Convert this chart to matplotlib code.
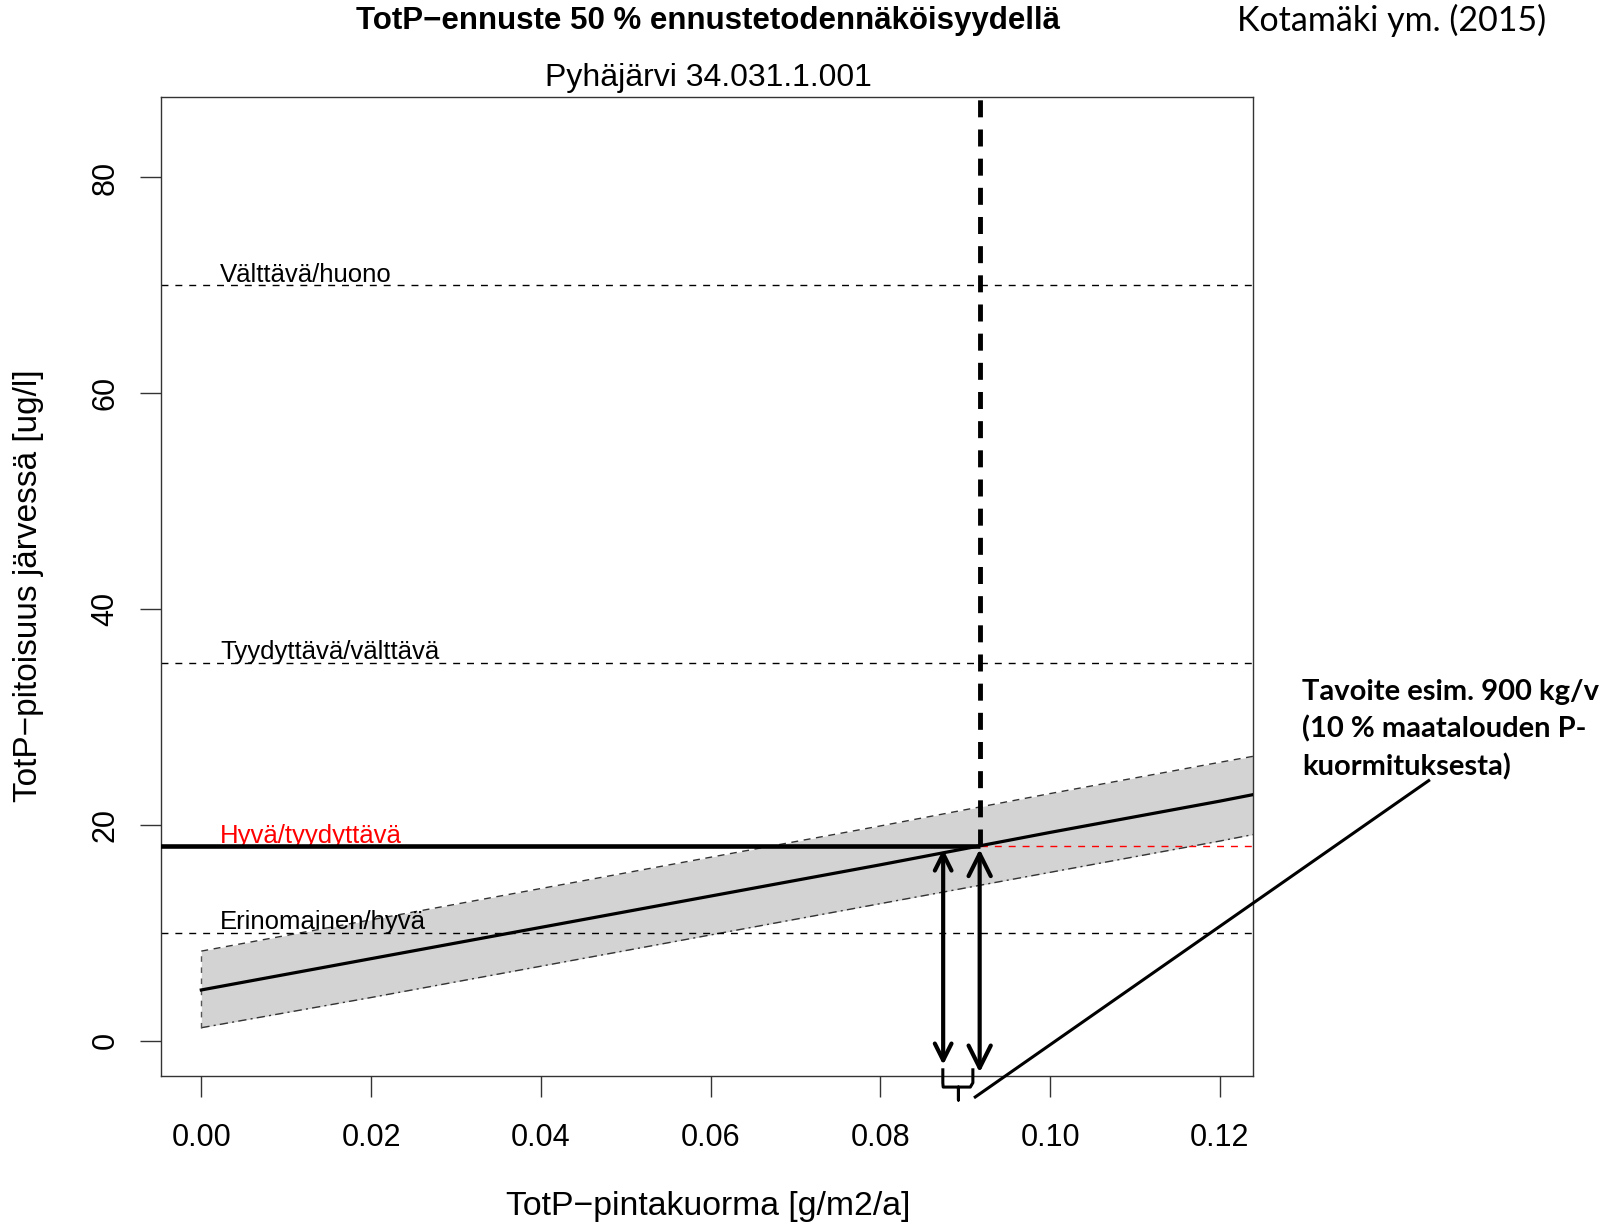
import matplotlib.pyplot as plt
import numpy as np

# kuormitus (g/m2/a) ja ennuste (ug/l)
load = [0.0, 0.02, 0.04, 0.06, 0.08, 0.10, 0.12, 0.1239]
median = [4.7, 7.6, 10.5, 13.4, 16.3, 19.3, 22.2, 22.8]
upper = [8.3, 11.2, 14.1, 17.0, 19.9, 22.9, 25.8, 26.35]
lower = [1.2, 4.0, 6.9, 9.8, 12.7, 15.6, 18.5, 19.1]

# luokkarajat
limits = [70, 35, 18, 10]
limit_names = ['Välttävä/huono', 'Tyydyttävä/välttävä', 'Hyvä/tyydyttävä', 'Erinomainen/hyvä']
limit_colors = ['black', 'black', 'red', 'black']

target_load = 0.0917
alt_load = 0.0874
target_conc = 18

x_ticks = [0.00, 0.02, 0.04, 0.06, 0.08, 0.10, 0.12]
y_ticks = [0, 20, 40, 60, 80]

plt.rcParams['font.family'] = ['Liberation Sans', 'DejaVu Sans']

fig = plt.figure(figsize=(16.18, 12.27), dpi=100)
ax = fig.add_axes([0.0995, 0.1231, 0.6749, 0.7978])
ax.set_xlim(-0.00475, 0.1239)
ax.set_ylim(-3.27, 87.45)

# ennustevyö
ax.fill_between(load, lower, upper, color='#d3d3d3', lw=0, zorder=1)
ax.plot(load, upper, color='#333333', lw=1, dashes=(5, 4), zorder=2)
ax.plot(load, lower, color='#333333', lw=1, dashes=(6, 3, 1.5, 3), zorder=2)
ax.plot([load[0], load[0]], [lower[0], upper[0]], color='#555555', lw=1, dashes=(4, 4), zorder=2)
ax.plot(load, median, color='black', lw=2.3, zorder=3)

# luokkarajat
for val, name, col in zip(limits, limit_names, limit_colors):
    ax.axhline(val, color=col, lw=1, dashes=(5, 5), zorder=2)
    ax.text(0.0022, val + 0.35, name, color=col, fontsize=18.5, ha='left', va='baseline', zorder=4)

# tavoiteviivat
ax.plot([-0.01, target_load], [target_conc, target_conc], color='black', lw=3.3, zorder=5,
        solid_capstyle='butt')
ax.plot([target_load, target_load], [target_conc, 90], color='black', lw=3.5, dashes=(3.5, 2.5), zorder=5)

ax.annotate('', xy=(alt_load, -2.5), xytext=(alt_load, target_conc),
            arrowprops=dict(arrowstyle='<->', lw=3, color='black', mutation_scale=30), zorder=6)
ax.annotate('', xy=(target_load, -3.2), xytext=(target_load, target_conc),
            arrowprops=dict(arrowstyle='<->', lw=3, color='black', mutation_scale=40), zorder=6)

# aaltosulku ja viiva tekstiin
bx = [0.08736, 0.08736, 0.0874, 0.0892, 0.0892, 0.0892, 0.0906, 0.0909, 0.0909]
by = [-2.7, -3.9, -4.3, -4.3, -5.5, -4.3, -4.3, -3.9, -2.7]
ax.plot(bx, by, color='black', lw=2.2, clip_on=False, zorder=6)
ax.plot([0.09118, 0.1446], [-5.22, 24.1], color='black', lw=2.2, clip_on=False, zorder=6)

ax.set_xticks(x_ticks)
ax.set_xticklabels(['%.2f' % v for v in x_ticks])
ax.set_yticks(y_ticks)
ax.set_yticklabels([str(v) for v in y_ticks], rotation=90, va='center')
ax.tick_params(axis='both', length=15, width=1, color='#333333', labelsize=22)
ax.tick_params(axis='x', pad=19)
ax.tick_params(axis='y', pad=14)
for s in ax.spines.values():
    s.set_color('#333333')
    s.set_linewidth(1)

fig.text(0.4376, 0.983, 'TotP\u2212ennuste 50 % ennustetodennäköisyydellä', fontsize=22.5,
         fontweight='bold', ha='center', va='center')
fig.text(0.4376, 0.9364, 'Pyhäjärvi 34.031.1.001', fontsize=23, ha='center', va='center')
fig.text(0.4376, 0.0163, 'TotP\u2212pintakuorma [g/m2/a]', fontsize=24.3, ha='center', va='center')
fig.text(0.0179, 0.523, 'TotP\u2212pitoisuus järvessä [ug/l]', fontsize=24, ha='center',
         va='center', rotation=90)

fig.text(0.860, 0.983, 'Kotamäki ym. (2015)', fontsize=24.5, ha='center', va='center',
         family=['Lato', 'DejaVu Sans'])
fig.text(0.8047, 0.4465, 'Tavoite esim. 900 kg/v\n(10 % maatalouden P-\nkuormituksesta)',
         fontsize=21, fontweight='bold', ha='left', va='top', linespacing=1.48,
         family=['Lato', 'DejaVu Sans'])

fig.savefig('out.png', dpi=100)
